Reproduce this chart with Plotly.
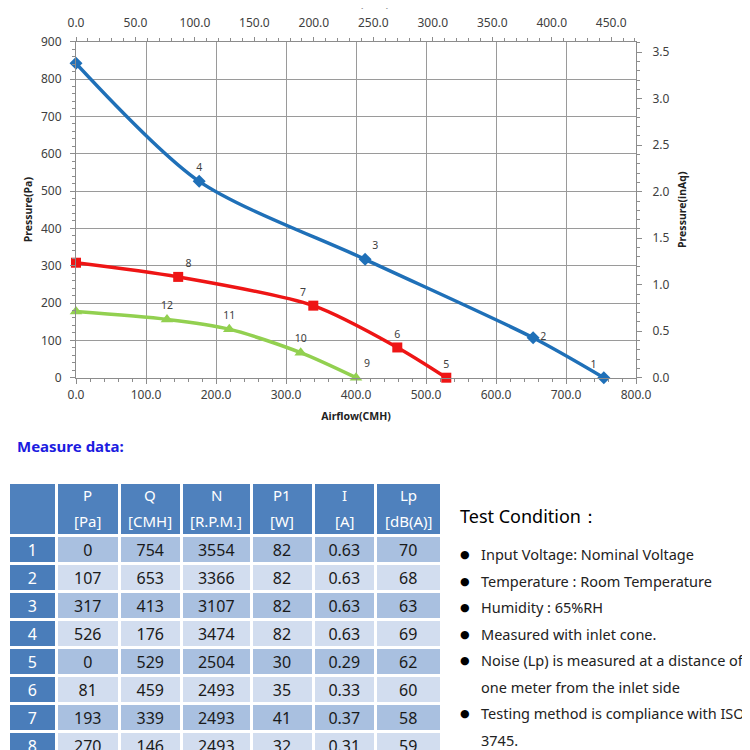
import plotly.graph_objects as go

# ---- chart data ----
blue_q = [0, 176, 413, 653, 754]
blue_p = [842, 526, 317, 107, 0]
blue_lbl = ["", "4", "3", "2", "1"]
blue_pos = ["top center", "top center", "top right", "middle right", "top left"]

red_q = [0, 146, 339, 459, 529]
red_p = [308, 270, 193, 81, 0]
red_lbl = ["", "8", "7", "6", "5"]
red_pos = ["top center", "top right", "top left", "top center", "top center"]

green_q = [0, 130, 219, 321, 400]
green_p = [177, 156, 130, 67, 0]
green_lbl = ["", "12", "11", "10", "9"]
green_pos = ["top center", "top center", "top center", "top center", "top right"]

# ---- table data ----
row_ids = ["1", "2", "3", "4", "5", "6", "7", "8"]
col_P = [0, 107, 317, 526, 0, 81, 193, 270]
col_Q = [754, 653, 413, 176, 529, 459, 339, 146]
col_N = [3554, 3366, 3107, 3474, 2504, 2493, 2493, 2493]
col_P1 = [82, 82, 82, 82, 30, 35, 41, 32]
col_I = ["0.63", "0.63", "0.63", "0.63", "0.29", "0.33", "0.37", "0.31"]
col_Lp = [70, 68, 63, 69, 62, 60, 58, 59]
head_sym = ["", "P", "Q", "N", "P1", "I", "Lp"]
head_unit = ["", "[Pa]", "[CMH]", "[R.P.M.]", "[W]", "[A]", "[dB(A)]"]
col_widths = [48.5, 62.5, 62.5, 69.5, 62, 62.5, 65.5]

conditions = [
    ("●", "Input Voltage: Nominal Voltage"),
    ("●", "Temperature : Room Temperature"),
    ("●", "Humidity : 65%RH"),
    ("●", "Measured with inlet cone."),
    ("●", "Noise (Lp) is measured at a distance of"),
    ("", "one meter from the inlet side"),
    ("●", "Testing method is compliance with ISO"),
    ("", "3745."),
]

CMH_PER_CFM = 1.699
PA_PER_INAQ = 249.089

FONT = "Noto Sans"
W = H = 750
OFF = 8  # page body margin
TABLE_W = sum(col_widths)

def px_x(p):
    return (p - OFF) / W

def px_y(p):
    return 1 - (p - OFF) / H

fig = go.Figure()

def add_curve(q, p, lbl, pos, color, symbol, msize):
    fig.add_trace(go.Scatter(
        x=q, y=p, mode="lines+markers+text",
        line=dict(color=color, width=3.5, shape="spline", smoothing=0.8),
        marker=dict(symbol=symbol, size=msize, color=color),
        text=lbl, textposition=pos,
        textfont=dict(family=FONT, size=10.5, color="#404040"),
        showlegend=False, cliponaxis=False,
    ))

add_curve(blue_q, blue_p, blue_lbl, blue_pos, "#1f70b8", "diamond", 10)
add_curve(red_q, red_p, red_lbl, red_pos, "#ee1515", "square", 10)
add_curve(green_q, green_p, green_lbl, green_pos, "#92d050", "triangle-up", 11)

# invisible helper for secondary axes
fig.add_trace(go.Scatter(x=[0], y=[0], xaxis="x2", yaxis="y2", mode="markers",
                         marker=dict(opacity=0), showlegend=False, hoverinfo="skip"))

# table
n = len(row_ids)
dark = "#4f81bd"
side = "#4a7dba"
odd = "#a9c0e0"
even = "#d2ddef"
row_fill = [odd if i % 2 == 0 else even for i in range(n)]
fig.add_trace(go.Table(
    domain=dict(x=[0, TABLE_W / W], y=[0, px_y(482.5)]),
    columnwidth=col_widths,
    header=dict(values=[""] * len(col_widths), fill_color=dark,
                line=dict(color="white", width=3), height=53),
    cells=dict(values=[row_ids, col_P, col_Q, col_N, col_P1, col_I, col_Lp],
               fill_color=[[side] * n] + [row_fill] * 6,
               line=dict(color="white", width=3),
               font=dict(family=FONT, size=16, color=[["white"] * n] + [["#1a1a1a"] * n] * 6),
               height=28, align="center"),
))

axis_font = dict(family=FONT, size=12, color="#404040")
title_font = dict(family=FONT, size=10.5, color="#222222")
grid = "#9a9a9a"
line = "#8c8c8c"

fig.update_layout(
    width=W, height=H, margin=dict(l=0, r=0, t=0, b=0, autoexpand=False),
    paper_bgcolor="white", plot_bgcolor="white",
    xaxis=dict(domain=[px_x(76), px_x(636)], range=[0, 800], dtick=100, tickformat=".1f",
               showgrid=True, gridcolor=grid, gridwidth=1, zeroline=False, automargin=False,
               showline=True, linecolor=line, ticks="outside", ticklen=5, tickcolor=line,
               minor=dict(dtick=20, ticklen=3, ticks="outside", tickcolor=line, showgrid=False),
               tickfont=axis_font, anchor="y", ticklabelstandoff=1,
               title=dict(text="<b>Airflow(CMH)</b>", font=title_font, standoff=10)),
    yaxis=dict(domain=[px_y(377.7), px_y(41.7)], range=[0, 900], dtick=100,
               showgrid=True, gridcolor=grid, gridwidth=1, zeroline=False, automargin=False,
               showline=True, linecolor=line, ticks="outside", ticklen=5, tickcolor=line,
               minor=dict(dtick=20, ticklen=3, ticks="outside", tickcolor=line, showgrid=False),
               tickfont=axis_font, anchor="x", ticklabelstandoff=6,
               title=dict(text="<b>Pressure(Pa)</b>", font=title_font, standoff=6)),
    xaxis2=dict(overlaying="x", side="top", anchor="y", range=[0, 800 / CMH_PER_CFM],
                dtick=50, tickformat=".1f", showgrid=False, zeroline=False, automargin=False,
                showline=True, linecolor=line, ticks="outside", ticklen=4, tickcolor=line,
                minor=dict(dtick=10, ticklen=3, ticks="outside", tickcolor=line, showgrid=False),
                tickfont=axis_font, ticklabelstandoff=5),
    yaxis2=dict(overlaying="y", side="right", anchor="x", range=[0, 900 / PA_PER_INAQ],
                dtick=0.5, tickformat=".1f", showgrid=False, zeroline=False, automargin=False,
                showline=True, linecolor=line, ticks="outside", ticklen=5, tickcolor=line,
                minor=dict(dtick=0.1, ticklen=3, ticks="outside", tickcolor=line, showgrid=False),
                tickfont=axis_font, ticklabelstandoff=8,
                title=dict(text="<b>Pressure(inAq)</b>", font=title_font, standoff=10)),
)

ann = []
# table header text, centred in each column
acc = 0
for sym, unit, w in zip(head_sym, head_unit, col_widths):
    cx = (acc + w / 2) / W
    acc += w
    if not sym:
        continue
    ann.append(dict(text=sym, x=cx, y=px_y(495), xref="paper", yref="paper",
                    xanchor="center", yanchor="middle", showarrow=False,
                    font=dict(family=FONT, size=15, color="white")))
    ann.append(dict(text=unit, x=cx, y=px_y(521), xref="paper", yref="paper",
                    xanchor="center", yanchor="middle", showarrow=False,
                    font=dict(family=FONT, size=15, color="white")))

# top axis title (clipped at the top edge in the reference)
ann.append(dict(text="<b>Airflow(CFM)</b>", x=px_x(356), y=1 + 5 / H, xref="paper", yref="paper",
                xanchor="center", yanchor="middle", showarrow=False, font=title_font))
ann.append(dict(text="<b>Measure data:</b>", x=px_x(15), y=px_y(446), xref="paper", yref="paper",
                xanchor="left", yanchor="middle", showarrow=False,
                font=dict(family=FONT, size=15, color="#1c1ce0")))
ann.append(dict(text="Test Condition：", x=px_x(458), y=px_y(516), xref="paper", yref="paper",
                xanchor="left", yanchor="middle", showarrow=False,
                font=dict(family=FONT, size=18, color="#000000")))
ys = [554, 581, 607, 634, 660, 687, 713, 740]
for (b, t), yy in zip(conditions, ys):
    if b:
        ann.append(dict(text=b, x=px_x(458), y=px_y(yy), xref="paper", yref="paper",
                        xanchor="left", yanchor="middle", showarrow=False,
                        font=dict(family="DejaVu Sans", size=11, color="#000000")))
    ann.append(dict(text=t, x=px_x(479), y=px_y(yy), xref="paper", yref="paper",
                    xanchor="left", yanchor="middle", showarrow=False,
                    font=dict(family=FONT, size=14.5, color="#222222")))
fig.update_layout(annotations=ann)

fig.write_html("out.html")
